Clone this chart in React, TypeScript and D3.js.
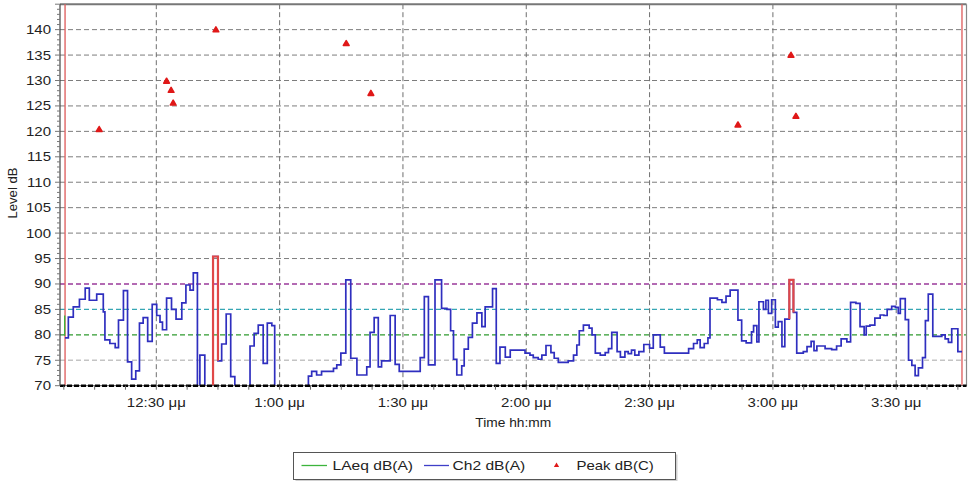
import React from 'react';
import * as d3 from 'd3';

// Time in minutes after 12:00 (μμ)
const ch2Times = [
  7.8, 8.6, 9.8, 11.3, 12.7, 13.7, 15.5, 17.1, 17.5, 18.7, 20.0, 20.8, 22.0, 23.0, 24.0, 25.0, 25.9, 26.8, 27.9, 29.0,
  30.1, 30.9, 31.5, 32.5, 33.7, 34.8, 36.2, 37.2, 38.2, 39.0, 40.0, 40.6, 41.8, 43.8, 45.0, 45.9, 47.0, 48.1, 49.1,
  52.8, 53.8, 54.8, 56.0, 57.0, 58.1, 58.8, 67.0, 67.8, 69.0, 70.2, 73.1, 73.9, 74.9, 76.1, 77.3, 78.8, 81.2, 82.0,
  83.0, 84.0, 84.8, 86.9, 88.1, 89.1, 94.2, 95.2, 96.2, 97.8, 99.4, 100.7, 101.6, 102.3, 103.1, 104.3, 104.9, 105.9,
  106.9, 108.0, 109.2, 110.0, 111.8, 112.7, 113.6, 114.9, 116.1, 119.7, 120.9, 121.7, 122.9, 123.8, 124.8, 126.0,
  126.8, 127.8, 130.2, 131.5, 132.3, 132.9, 133.9, 135.3, 136.0, 136.8, 138.0, 139.2, 140.0, 140.8, 142.1, 142.9,
  144.0, 144.8, 145.6, 146.4, 147.4, 148.6, 150.0, 150.9, 152.6, 153.6, 159.5, 160.7, 161.6, 162.3, 163.3, 164.2,
  164.7, 166.5, 167.6, 168.6, 169.6, 171.5, 172.4, 173.5, 174.8, 175.3, 176.1, 176.6, 177.7, 178.3, 178.9, 179.7,
  180.6, 181.3, 182.2, 182.9, 184.0, 185.0, 185.8, 187.4, 188.3, 189.3, 190.0, 190.7, 192.7, 194.3, 195.5, 196.6,
  198.0, 198.9, 200.2, 201.2, 202.2, 202.7, 203.6, 204.8, 206.1, 207.0, 207.8, 208.9, 209.8, 210.5, 211.0, 212.2,
  213.0, 213.8, 214.6, 215.4, 216.4, 217.1, 217.8, 218.9, 221.1, 221.9, 222.7, 223.5, 225.0, 226.0,
];
const ch2Values = [
  79.4, 83.5, 85.5, 87.0, 89.2, 86.8, 88.0, 84.5, 79.0, 78.3, 77.5, 82.9, 88.7, 74.7, 71.3, 72.9, 82.3, 83.4, 78.7, 86.0,
  83.8, 82.5, 81.0, 87.2, 85.0, 83.1, 86.3, 89.8, 88.8, 92.2, 60, 76.0, 60, 95.4, 74.9, 78.2, 84.1, 71.8, 60,
  77.8, 80.3, 81.9, 74.4, 82.3, 81.8, 60, 71.9, 72.8, 72.1, 72.8, 73.4, 74.1, 76.4, 90.8, 75.4, 72.1, 73.7, 80.5,
  83.4, 73.7, 74.9, 83.8, 74.2, 72.8, 75.5, 87.5, 74.1, 90.8, 85.2, 85.0, 80.8, 75.2, 72.1, 73.9, 77.2, 79.5,
  82.3, 84.3, 81.6, 85.5, 89.1, 74.4, 77.6, 75.6, 77.0, 76.4, 76.0, 75.5, 75.2, 76.0, 77.9, 76.5,
  75.4, 74.6, 74.9, 76.0, 78.0, 80.8, 81.9, 81.3, 80.0, 76.4, 76.0, 76.5, 77.3, 80.5, 76.7, 75.6,
  76.7, 76.3, 77.0, 76.0, 76.7, 78.1, 77.4, 80.0, 77.6, 76.4, 77.3, 78.3, 79.0, 77.5, 78.3, 79.4,
  87.2, 86.9, 86.4, 87.6, 88.8, 82.9, 78.8, 78.4, 80.6, 81.8, 78.6, 86.5, 85.0, 86.8, 84.2, 86.9,
  81.5, 82.6, 77.7, 83.1, 90.8, 84.4, 76.4, 76.7, 77.7, 78.7, 76.9, 77.8, 77.3, 77.1, 77.8, 79.2,
  78.6, 86.4, 86.2, 81.6, 80.0, 81.7, 81.9, 83.3, 83.9, 83.8, 85.0, 85.6, 85.4, 84.2, 87.1, 83.0,
  75.0, 74.0, 72.0, 73.5, 75.5, 82.8, 88.0, 79.7, 80.0, 79.2, 78.5, 81.2, 76.7, 76.7,
];

// Ch2 intervals flagged in red
const event1Times = [43.8, 43.8, 45.0, 45.0];
const event1Values = [60, 95.4, 95.4, 74.9];
const event2Times = [184.0, 184.0, 185.0, 185.0];
const event2Values = [83.1, 90.8, 90.8, 84.4];

const laeqTimes = [7.7, 7.7];
const laeqValues = [79.8, 83.8];

const peakTimes = [16.1, 32.5, 33.6, 34.1, 44.5, 76.2, 82.2, 171.5, 184.4, 185.6];
const peakValues = [120.3, 129.8, 128.0, 125.5, 139.9, 137.2, 127.4, 121.2, 134.9, 122.9];

const markerTimes = [7.8, 226.0];

const yTicks = [70, 75, 80, 85, 90, 95, 100, 105, 110, 115, 120, 125, 130, 135, 140];
const xTickTimes = [30, 60, 90, 120, 150, 180, 210];
const xTickLabels = ['12:30 μμ', '1:00 μμ', '1:30 μμ', '2:00 μμ', '2:30 μμ', '3:00 μμ', '3:30 μμ'];

const refLevels = [75, 80, 85, 90];
const refColors = ['#c4c4c4', '#2f9a2f', '#36a6b4', '#9a3a9a'];

const legendNames = ['LAeq dB(A)', 'Ch2 dB(A)', 'Peak dB(C)'];

const FONT = '"Liberation Sans", Arial, sans-serif';
const SX = 1.2;

function T({ x, y, children, anchor = 'start', size = 12.5, sx = SX, rotate = 0 }: any) {
  return (
    <text
      transform={`translate(${x},${y}) rotate(${rotate}) scale(${sx},1)`}
      textAnchor={anchor}
      fontFamily={FONT}
      fontSize={size}
      fill="#222"
    >
      {children}
    </text>
  );
}

export default function App() {
  const W = 969;
  const H = 481;
  const left = 60;
  const right = 966.5;
  const top = 4.2;
  const bottom = 385.7;

  const x = d3.scaleLinear().domain([6.57, 227.1]).range([left, right]);
  const y = d3.scaleLinear().domain([70, 145]).range([bottom, top]);

  const step = d3
    .line<[number, number]>()
    .x((d) => x(d[0]))
    .y((d) => y(d[1]))
    .curve(d3.curveStepAfter);
  const lin = d3
    .line<[number, number]>()
    .x((d) => x(d[0]))
    .y((d) => y(d[1]));

  const ch2 = ch2Times.map((t, i) => [t, ch2Values[i]] as [number, number]);
  const ev1 = event1Times.map((t, i) => [t, event1Values[i]] as [number, number]);
  const ev2 = event2Times.map((t, i) => [t, event2Values[i]] as [number, number]);
  const laeq = laeqTimes.map((t, i) => [t, laeqValues[i]] as [number, number]);

  const minorX = d3.range(7.5, 227, 7.5);
  const minorY = d3.range(70, 146, 1);
  const tri = d3.symbol(d3.symbolTriangle, 14)();

  const gridY = yTicks.filter((v) => v > 70 && !refLevels.includes(v));

  return (
    <svg width={W} height={H} style={{ position: 'absolute', left: 0, top: 0, background: '#fff' }}>
      <defs>
        <clipPath id="plot">
          <rect x={left} y={top} width={right - left} height={bottom - top} />
        </clipPath>
      </defs>
      <rect x={0} y={0} width={W} height={H} fill="#fff" />

      {/* horizontal grid */}
      {gridY.map((v) => (
        <line key={'gy' + v} x1={left} x2={right} y1={y(v)} y2={y(v)} stroke="#7d7d7d" strokeWidth={1} strokeDasharray="5,3" />
      ))}
      {/* vertical grid */}
      {xTickTimes.map((t) => (
        <line key={'gx' + t} x1={x(t)} x2={x(t)} y1={top} y2={bottom} stroke="#6e6e6e" strokeWidth={1} strokeDasharray="5,3" />
      ))}
      {/* reference levels */}
      {refLevels.map((v, i) => (
        <line key={'r' + v} x1={left} x2={right} y1={y(v)} y2={y(v)} stroke={refColors[i]} strokeWidth={1.4} strokeDasharray="5,3" />
      ))}

      {/* frame */}
      <line x1={left} x2={right} y1={top} y2={top} stroke="#777" strokeWidth={2} />
      <line x1={right} x2={right} y1={top} y2={bottom} stroke="#888" strokeWidth={1.2} />

      {/* start / end markers */}
      {markerTimes.map((t) => (
        <line key={'m' + t} x1={x(t)} x2={x(t)} y1={top} y2={bottom} stroke="#e06464" strokeWidth={1.4} />
      ))}

      <g clipPath="url(#plot)">
        <path d={lin(laeq) || ''} fill="none" stroke="#3cb43c" strokeWidth={1.3} />
        <path d={step(ch2) || ''} fill="none" stroke="#2f2fbf" strokeWidth={1.7} strokeLinejoin="miter" />
        <path d={lin(ev1) || ''} fill="none" stroke="#e04848" strokeWidth={2.2} />
        <path d={lin(ev2) || ''} fill="none" stroke="#e04848" strokeWidth={2.2} />
      </g>

      {/* peaks */}
      {peakTimes.map((t, i) => (
        <path
          key={'p' + i}
          d={tri || ''}
          transform={`translate(${x(t)},${y(peakValues[i])})`}
          fill="#e01818"
          stroke="#e01818"
          strokeWidth={1.6}
          strokeLinejoin="round"
        />
      ))}

      {/* bottom axis at 70 */}
      <line x1={left} x2={right} y1={bottom} y2={bottom} stroke="#555" strokeWidth={1} />
      <line x1={left} x2={right} y1={bottom} y2={bottom} stroke="#000" strokeWidth={2.6} strokeDasharray="5,2" />
      {minorX.map((t) => (
        <line key={'mx' + t} x1={x(t)} x2={x(t)} y1={bottom} y2={bottom + 4} stroke="#666" strokeWidth={1} />
      ))}

      {/* left axis */}
      <line x1={left} x2={left} y1={top} y2={bottom} stroke="#444" strokeWidth={1.2} />
      {minorY.map((v) => (
        <line
          key={'my' + v}
          x1={left - (v % 5 === 0 ? 5 : 3)}
          x2={left}
          y1={y(v)}
          y2={y(v)}
          stroke="#777"
          strokeWidth={1}
        />
      ))}

      {/* y labels */}
      {yTicks.map((v) => (
        <T key={'yl' + v} x={51} y={y(v) + 4.5} anchor="end">
          {String(v)}
        </T>
      ))}
      {/* x labels */}
      {xTickTimes.map((t, i) => (
        <T key={'xl' + t} x={x(t)} y={407} anchor="middle">
          {xTickLabels[i]}
        </T>
      ))}
      <T x={(left + right) / 2} y={427} anchor="middle" sx={1.1}>
        Time hh:mm
      </T>
      <T x={17} y={193} anchor="middle" rotate={-90} sx={1.05}>
        Level dB
      </T>

      {/* legend */}
      <rect x={295.5} y={454.5} width={382} height={27} fill="#d0d0d0" />
      <rect x={293.5} y={452.5} width={382} height={27} fill="#fff" stroke="#555" strokeWidth={1} />
      <line x1={301.5} x2={327} y1={465.5} y2={465.5} stroke="#3cb43c" strokeWidth={1.3} />
      <T x={332.5} y={470} size={13}>
        {legendNames[0]}
      </T>
      <line x1={424} x2={449} y1={465.5} y2={465.5} stroke="#3f3fc8" strokeWidth={1.3} />
      <T x={452.5} y={470} size={13}>
        {legendNames[1]}
      </T>
      <path d={d3.symbol(d3.symbolTriangle, 12)() || ''} transform="translate(556.5,465.5)" fill="#e01818" />
      <T x={576.5} y={470} size={13} sx={1.15}>
        {legendNames[2]}
      </T>
    </svg>
  );
}
